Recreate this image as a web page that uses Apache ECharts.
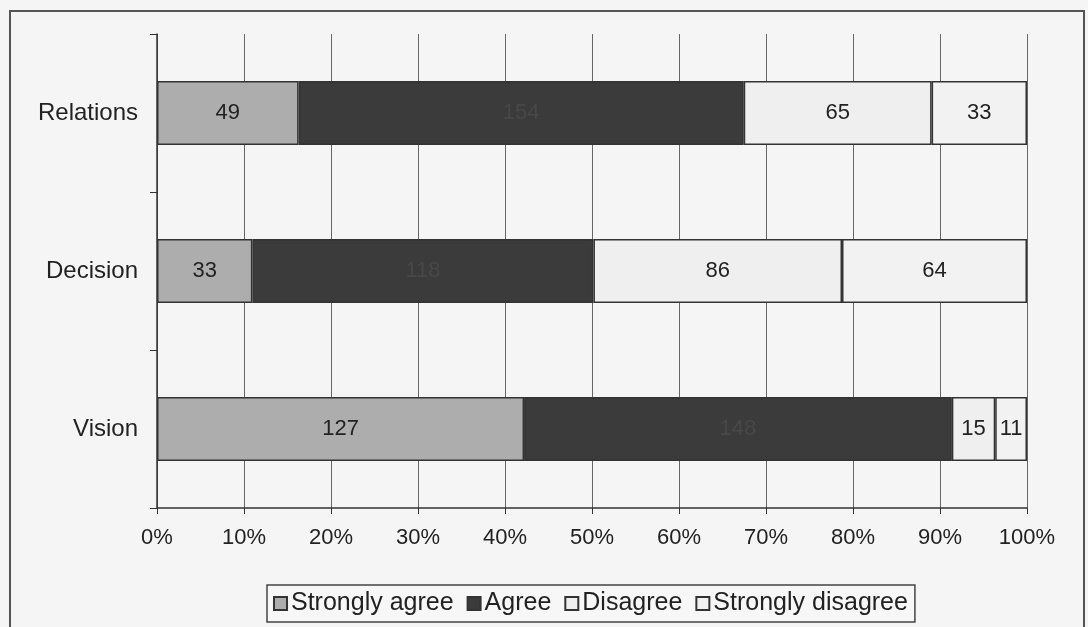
<!DOCTYPE html>
<html>
<head>
<meta charset="utf-8">
<script src="https://cdn.jsdelivr.net/npm/echarts@6/dist/echarts.min.js"></script>
<style>
html,body{margin:0;padding:0;background:#f5f5f5;}
#c{width:1088px;height:627px;}
</style>
</head>
<body>
<div id="c"></div>
<script>
const categories = ['Vision', 'Decision', 'Relations'];
const stronglyAgree = [127, 33, 49];
const agree = [148, 118, 154];
const disagree = [15, 86, 65];
const stronglyDisagree = [11, 64, 33];
const xTicks = [0, 10, 20, 30, 40, 50, 60, 70, 80, 90, 100];

const totals = categories.map((_, i) => stronglyAgree[i] + agree[i] + disagree[i] + stronglyDisagree[i]);
const pct = arr => arr.map((v, i) => ({ value: v / totals[i] * 100, raw: v }));

const font = '"Liberation Sans", Arial, sans-serif';
function mk(name, arr, color, labelColor) {
  return {
    name: name, type: 'bar', stack: 'all', barWidth: 64,
    data: pct(arr),
    itemStyle: { color: color, borderColor: '#333', borderWidth: 1.5 },
    label: { show: true, position: 'inside', fontFamily: font, fontSize: 22, color: labelColor,
      formatter: p => p.data.raw },
    emphasis: { disabled: true }
  };
}

const chart = echarts.init(document.getElementById('c'));
chart.setOption({
  backgroundColor: '#f5f5f5',
  animation: false,
  graphic: [{ type: 'rect', shape: { x: 10, y: 11, width: 1074, height: 640 },
    style: { fill: 'none', stroke: '#555', lineWidth: 2 }, silent: true }],
  grid: { left: 157, right: 61, top: 34, bottom: 119, containLabel: false },
  xAxis: {
    type: 'value', min: 0, max: 100, interval: 10,
    axisLine: { show: true, lineStyle: { color: '#333', width: 1.5 } },
    axisTick: { show: true, length: 6, lineStyle: { color: '#333' } },
    axisLabel: { fontFamily: font, fontSize: 22, color: '#222', margin: 19,
      formatter: v => xTicks.indexOf(v) >= 0 ? v + '%' : '' },
    splitLine: { show: true, lineStyle: { color: '#666', width: 1 } }
  },
  yAxis: {
    type: 'category', data: categories,
    axisLine: { show: true, lineStyle: { color: '#333', width: 1.5 } },
    axisTick: { show: true, length: 7, lineStyle: { color: '#333' } },
    axisLabel: { fontFamily: font, fontSize: 24, color: '#222', margin: 19 }
  },
  legend: {
    bottom: 5, left: 267,
    itemWidth: 13, itemHeight: 13, itemGap: 13,
    padding: [6, 7, 6, 6],
    borderColor: '#444', borderWidth: 1.5, backgroundColor: '#f7f7f7',
    textStyle: { fontFamily: font, fontSize: 25, color: '#222', padding: [0, 0, 0, -1] },
    icon: 'rect',
    data: ['Strongly agree', 'Agree', 'Disagree', 'Strongly disagree']
  },
  series: [
    mk('Strongly agree', stronglyAgree, '#adadad', '#222'),
    mk('Agree', agree, '#3b3b3b', '#484848'),
    mk('Disagree', disagree, '#efefef', '#222'),
    mk('Strongly disagree', stronglyDisagree, '#f2f2f2', '#222')
  ]
});
</script>
</body>
</html>
